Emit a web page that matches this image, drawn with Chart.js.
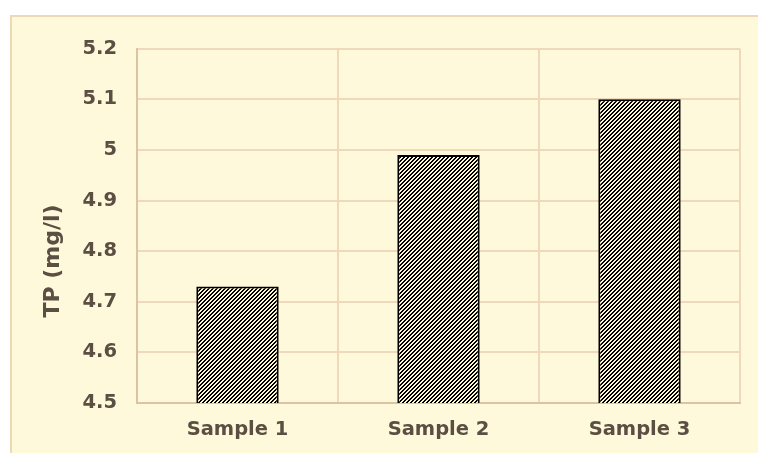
<!DOCTYPE html>
<html>
<head>
<meta charset="utf-8">
<script src="https://cdn.jsdelivr.net/npm/chart.js@4.4.1/dist/chart.umd.min.js"></script>
<style>
  html, body { margin: 0; padding: 0; background: #ffffff; overflow: hidden; }
  #frame {
    position: absolute; left: 10px; top: 15px; width: 3000px; height: 3000px;
    background: #FFF9DB; border-left: 2px solid #EFD8B6; border-top: 2px solid #EFD8B6;
  }
  #chart { position: absolute; left: 12px; top: 17px; }
</style>
</head>
<body>
<div id="frame"></div>
<canvas id="chart" width="746" height="436"></canvas>
<script>
// Total phosphorus per sample
const categories = ['Sample 1', 'Sample 2', 'Sample 3'];
const tpValues = [4.73, 4.99, 5.10];
const yTicks = [4.5, 4.6, 4.7, 4.8, 4.9, 5, 5.1, 5.2];
const yTitle = 'TP (mg/l)';

const textColor = '#5B4E42';
const gridColor = '#F0D9BA';
const axisColor = '#DCC3A4';
const fontFamily = '"DejaVu Sans", Verdana, sans-serif';

// Diagonal "/" hatch used to fill the bars
function hatchPattern() {
  const tile = document.createElement('canvas');
  tile.width = 4; tile.height = 4;
  const c = tile.getContext('2d');
  c.fillStyle = '#FFF6D2';
  c.fillRect(0, 0, 4, 4);
  c.fillStyle = '#000000';
  for (let x = 0; x < 4; x++) {
    for (let y = 0; y < 4; y++) {
      const k = (x + y) % 4;
      if (k === 0 || k === 3) c.fillRect(x, y, 1, 1);
    }
  }
  return document.getElementById('chart').getContext('2d').createPattern(tile, 'repeat');
}

// Rotated axis title, placed beside the tick labels
const axisTitle = {
  id: 'axisTitle',
  afterDraw(chart) {
    const ctx = chart.ctx;
    ctx.save();
    ctx.translate(41, 244);
    ctx.rotate(-Math.PI / 2);
    ctx.font = 'bold 22px ' + fontFamily;
    ctx.fillStyle = textColor;
    ctx.textAlign = 'center';
    ctx.textBaseline = 'middle';
    ctx.fillText(yTitle, 0, 0);
    ctx.restore();
  }
};

new Chart(document.getElementById('chart'), {
  type: 'bar',
  data: {
    labels: categories,
    datasets: [{
      data: tpValues,
      backgroundColor: hatchPattern(),
      borderColor: '#000000',
      borderWidth: 2,
      borderSkipped: false,
      categoryPercentage: 1,
      barPercentage: 0.41
    }]
  },
  options: {
    responsive: false,
    animation: false,
    devicePixelRatio: 1,
    layout: { padding: { top: 28, right: 18, left: 0, bottom: 0 } },
    plugins: { legend: { display: false }, tooltip: { enabled: false } },
    scales: {
      x: {
        grid: { color: gridColor, lineWidth: 2, drawTicks: false, offset: true },
        border: { color: axisColor, width: 2 },
        ticks: { color: textColor, padding: 15, font: { family: fontFamily, size: 19.5, weight: 'bold' } },
        afterFit(scale) { scale.height = 50; }
      },
      y: {
        min: 4.5, max: 5.2,
        afterBuildTicks(scale) { scale.ticks = yTicks.map(v => ({ value: v })); },
        grid: { color: gridColor, lineWidth: 2, drawTicks: false },
        border: { color: axisColor, width: 2 },
        ticks: {
          color: textColor, padding: 20,
          font: { family: fontFamily, size: 19.5, weight: 'bold' },
          callback: v => String(Math.round(v * 10) / 10)
        },
        afterFit(scale) { scale.width = 125; }
      }
    }
  },
  plugins: [axisTitle]
});
</script>
</body>
</html>
